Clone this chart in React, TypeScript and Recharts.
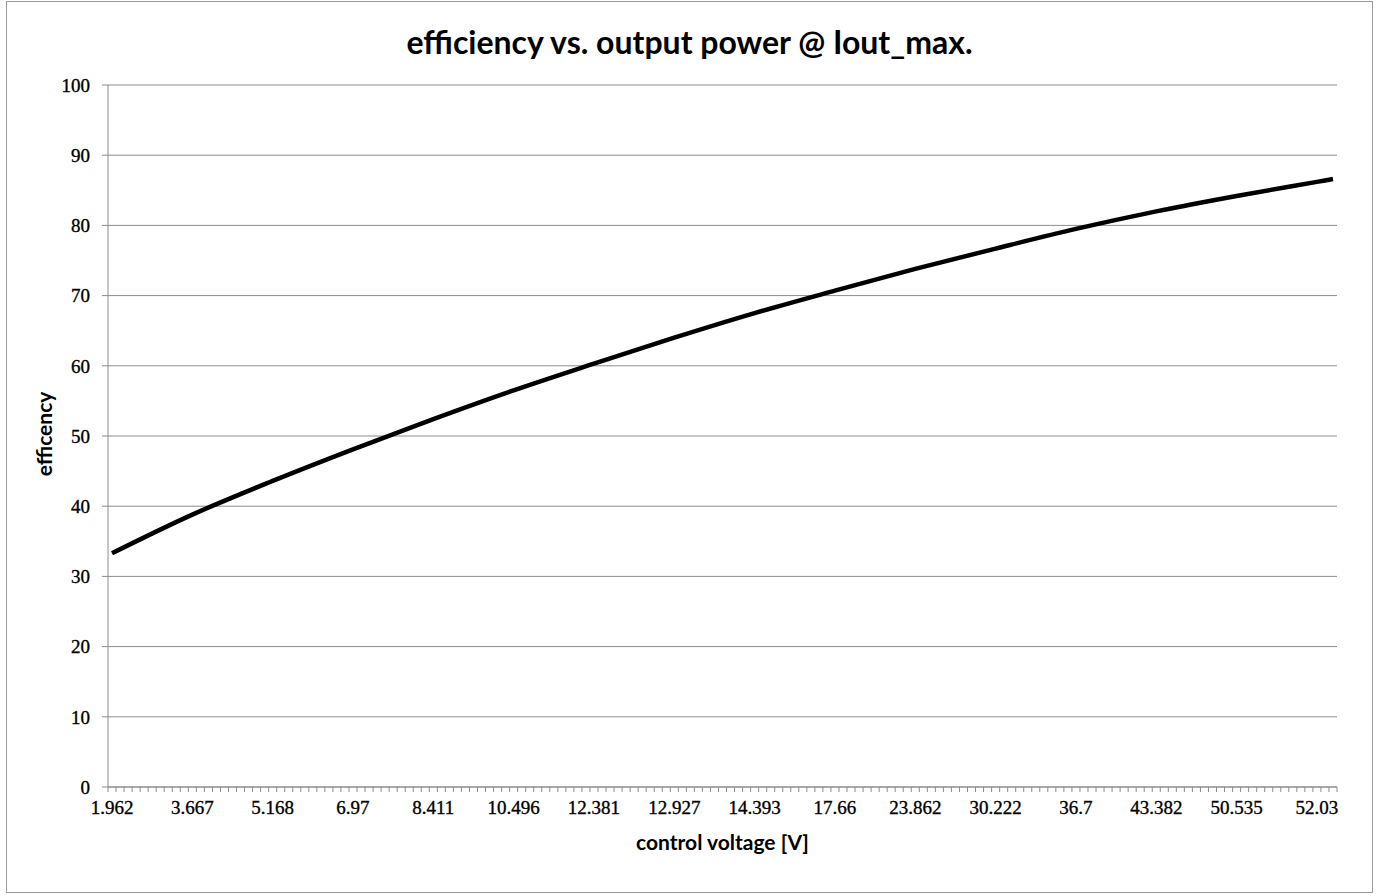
import { LineChart, Line, XAxis, YAxis, CartesianGrid } from 'recharts'

// category labels shown on the x axis (every 10th category)
const voltageLabels = [
  '1.962', '3.667', '5.168', '6.97', '8.411', '10.496', '12.381', '12.927',
  '14.393', '17.66', '23.862', '30.222', '36.7', '43.382', '50.535', '52.03',
]
const labelIndex = [0, 10, 20, 30, 40, 50, 60, 70, 80, 90, 100, 110, 120, 130, 140, 150]
const categoryCount = 153

// efficiency at the labelled categories and the last one
const pointIndex = [0, 10, 20, 30, 40, 50, 60, 70, 80, 90, 100, 110, 120, 130, 140, 150, 152]
const efficiency = [33.3, 38.8, 43.6, 48.1, 52.4, 56.5, 60.3, 64.0, 67.5, 70.7, 73.8, 76.7, 79.5, 82.0, 84.2, 86.2, 86.6]

const yTicks = [0, 10, 20, 30, 40, 50, 60, 70, 80, 90, 100]

const data = pointIndex.map((i, k) => ({ i, eff: efficiency[k] }))

// tick marks sit between categories, labels on the category centres
const boundaryTicks = Array.from({ length: categoryCount + 1 }, (_, k) => k - 0.5)
const xTicks = [...boundaryTicks, ...labelIndex].sort((a, b) => a - b)

const axisGray = '#8c8c8c'
const labelFont = "'Liberation Serif', serif"

function CategoryTick(props: any) {
  const { x, y, payload } = props
  const k = labelIndex.indexOf(payload.value)
  if (k >= 0) {
    return (
      <text
        x={x} y={y + 27} textAnchor="middle" fontFamily={labelFont} fontSize={19}
        fill="#000" stroke="#000" strokeWidth={0.35}
      >
        {voltageLabels[k]}
      </text>
    )
  }
  return <line x1={x} x2={x} y1={y} y2={y + 5} stroke={axisGray} strokeWidth={1} />
}

export default function App() {
  return (
    <div style={{ position: 'absolute', left: 0, top: 0, width: 1377, height: 896, background: '#fff' }}>
      <div
        style={{
          position: 'absolute', left: 6, top: 1, width: 1367, height: 892,
          border: '1px solid #9a9a9a', boxSizing: 'border-box',
        }}
      />
      <div
        style={{
          position: 'absolute', left: 6, top: 24, width: 1367, textAlign: 'center',
          fontFamily: 'Lato, sans-serif', fontWeight: 'bold', fontSize: 32, lineHeight: '36px', color: '#000',
        }}
      >
        efficiency vs. output power @ Iout_max.
      </div>
      <LineChart
        width={1377}
        height={896}
        data={data}
        margin={{ top: 85, right: 40, left: 0, bottom: 79 }}
        style={{ position: 'absolute', left: 0, top: 0 }}
      >
        <CartesianGrid vertical={false} stroke={axisGray} />
        <XAxis
          dataKey="i"
          type="number"
          domain={[-0.5, categoryCount - 0.5]}
          ticks={xTicks}
          interval={0}
          tickSize={0}
          tickMargin={0}
          tickLine={false}
          axisLine={{ stroke: axisGray }}
          tick={CategoryTick}
          height={30}
          allowDecimals
        />
        <YAxis
          type="number"
          domain={[0, 100]}
          ticks={yTicks}
          interval={0}
          width={108}
          tickSize={6}
          tickMargin={12}
          tickLine={{ stroke: axisGray }}
          axisLine={{ stroke: axisGray }}
          tick={{ fontFamily: labelFont, fontSize: 19, fill: '#000', stroke: '#000', strokeWidth: 0.35 }}
        />
        <Line
          type="monotone"
          dataKey="eff"
          stroke="#000"
          strokeWidth={4.5}
          dot={false}
          isAnimationActive={false}
        />
      </LineChart>
      <div
        style={{
          position: 'absolute', left: 108, top: 830, width: 1229, textAlign: 'center',
          fontFamily: 'Lato, sans-serif', fontWeight: 'bold', fontSize: 21, lineHeight: '24px', color: '#000',
        }}
      >
        control voltage [V]
      </div>
      <div
        style={{
          position: 'absolute', left: 43, top: 434, transform: 'translate(-50%, -50%) rotate(-90deg)',
          whiteSpace: 'nowrap', fontFamily: 'Lato, sans-serif', fontWeight: 'bold', fontSize: 21, color: '#000',
        }}
      >
        efficency
      </div>
    </div>
  )
}
